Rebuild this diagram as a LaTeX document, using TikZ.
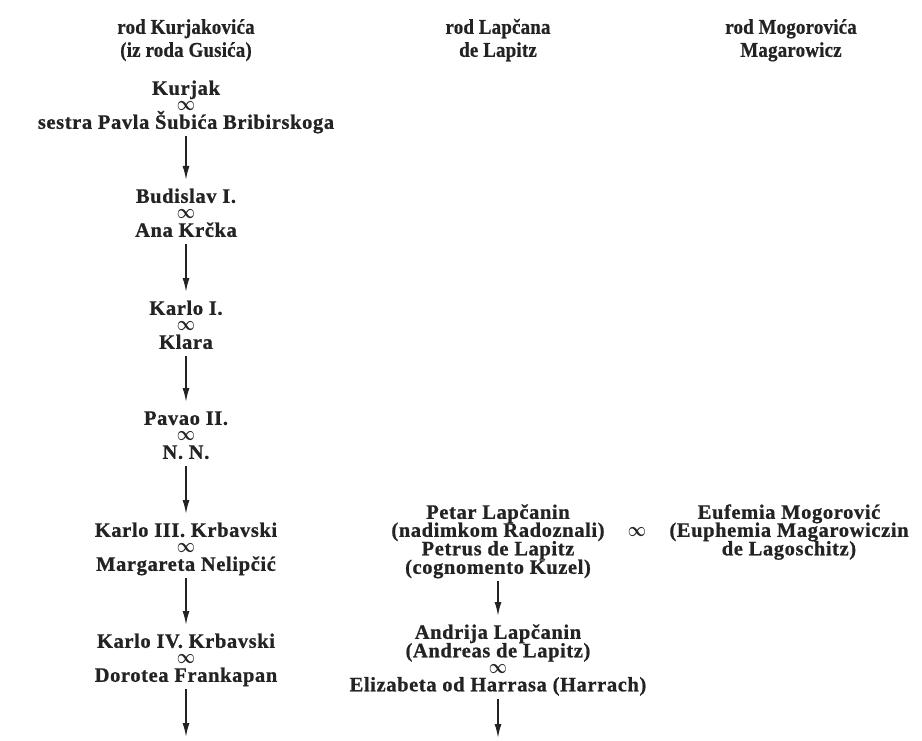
\documentclass[tikz,border=0pt]{standalone}
\usepackage{bm}
\usepackage{fontspec}
\setmainfont{Liberation Serif}[LetterSpace=3,BoldFeatures={FakeBold=0.8}]
\newfontfamily\headfont{Liberation Serif Bold}[FakeStretch=0.9,FakeBold=0.6,LetterSpace=1]
\usetikzlibrary{arrows.meta}
\definecolor{ink}{RGB}{35,35,35}
\newcommand{\marsym}{\scalebox{1.1}[1.4]{$\bm{\infty}$}}
\tikzset{
  lbl/.style={font=\fontsize{20.5pt}{20.5pt}\selectfont\bfseries, text=ink, inner sep=0pt, anchor=base},
  head/.style={font=\fontsize{21pt}{21pt}\selectfont\headfont, text=ink, inner sep=0pt, anchor=base},
  mar/.style={font=\fontsize{14pt}{14pt}\selectfont, text=ink, inner sep=0pt, anchor=center},
  arr/.style={draw=ink, line width=1.6pt, -{Latex[length=14pt,width=7pt]}}
}
\begin{document}
\begin{tikzpicture}[x=1pt,y=1pt]
\useasboundingbox (0,0) rectangle (922,-741);
% headings
\node[head] (h1a) at (186,-33.8) {rod Kurjakovića};
\node[head] (h1b) at (186,-56.8) {(iz roda Gusića)};
\node[head] (h2a) at (498,-33.8) {rod Lapčana};
\node[head] (h2b) at (498,-56.8) {de Lapitz};
\node[head] (h3a) at (791,-33.8) {rod Mogorovića};
\node[head] (h3b) at (791,-56.8) {Magarowicz};
% column 1
\node[lbl] (k1) at (186,-94.8) {Kurjak};
\node[mar] (k1m) at (186,-106) {\marsym};
\node[lbl] (k1w) at (186,-128.8) {sestra Pavla Šubića Bribirskoga};
\node[lbl] (b1) at (186,-202.8) {Budislav I.};
\node[mar] (b1m) at (186,-214) {\marsym};
\node[lbl] (b1w) at (186,-236.8) {Ana Krčka};
\node[lbl] (c1) at (186,-314.8) {Karlo I.};
\node[mar] (c1m) at (186,-326) {\marsym};
\node[lbl] (c1w) at (186,-348.8) {Klara};
\node[lbl] (p2) at (186,-424.8) {Pavao II.};
\node[mar] (p2m) at (186,-436) {\marsym};
\node[lbl] (p2w) at (186,-458.8) {N. N.};
\node[lbl] (c3) at (186,-536.8) {Karlo III. Krbavski};
\node[mar] (c3m) at (186,-548) {\marsym};
\node[lbl] (c3w) at (186,-570.8) {Margareta Nelipčić};
\node[lbl] (c4) at (186,-647.8) {Karlo IV. Krbavski};
\node[mar] (c4m) at (186,-659) {\marsym};
\node[lbl] (c4w) at (186,-681.8) {Dorotea Frankapan};
\coordinate (e1) at (186,-737);
\draw[arr] ([yshift=-7.2pt]k1w.base) -- ([yshift=22.8pt]b1.base);
\draw[arr] ([yshift=-7.2pt]b1w.base) -- ([yshift=22.8pt]c1.base);
\draw[arr] ([yshift=-7.2pt]c1w.base) -- ([yshift=22.8pt]p2.base);
\draw[arr] ([yshift=-7.2pt]p2w.base) -- ([yshift=22.8pt]c3.base);
\draw[arr] ([yshift=-7.2pt]c3w.base) -- ([yshift=22.8pt]c4.base);
\draw[arr] ([yshift=-7.2pt]c4w.base) -- (e1);
% column 2
\node[lbl] (pe1) at (498,-518.8) {Petar Lapčanin};
\node[lbl] (pe2) at (498,-536.8) {(nadimkom Radoznali)};
\node[lbl] (pe3) at (498,-555.3) {Petrus de Lapitz};
\node[lbl] (pe4) at (498,-573.8) {(cognomento Kuzel)};
\node[mar] (pem) at (637,-532) {\marsym};
\node[lbl] (an1) at (498,-638.8) {Andrija Lapčanin};
\node[lbl] (an2) at (498,-657.3) {(Andreas de Lapitz)};
\node[mar] (anm) at (498,-669) {\marsym};
\node[lbl] (an3) at (498,-691.3) {Elizabeta od Harrasa (Harrach)};
\coordinate (e2) at (498,-738);
\draw[arr] ([yshift=-7.2pt]pe4.base) -- ([yshift=22.8pt]an1.base);
\draw[arr] ([yshift=-7.2pt]an3.base) -- (e2);
% column 3
\node[lbl] (eu1) at (789,-518.8) {Eufemia Mogorović};
\node[lbl] (eu2) at (789,-536.8) {(Euphemia Magarowiczin};
\node[lbl] (eu3) at (789,-555.3) {de Lagoschitz)};
\end{tikzpicture}
\end{document}
